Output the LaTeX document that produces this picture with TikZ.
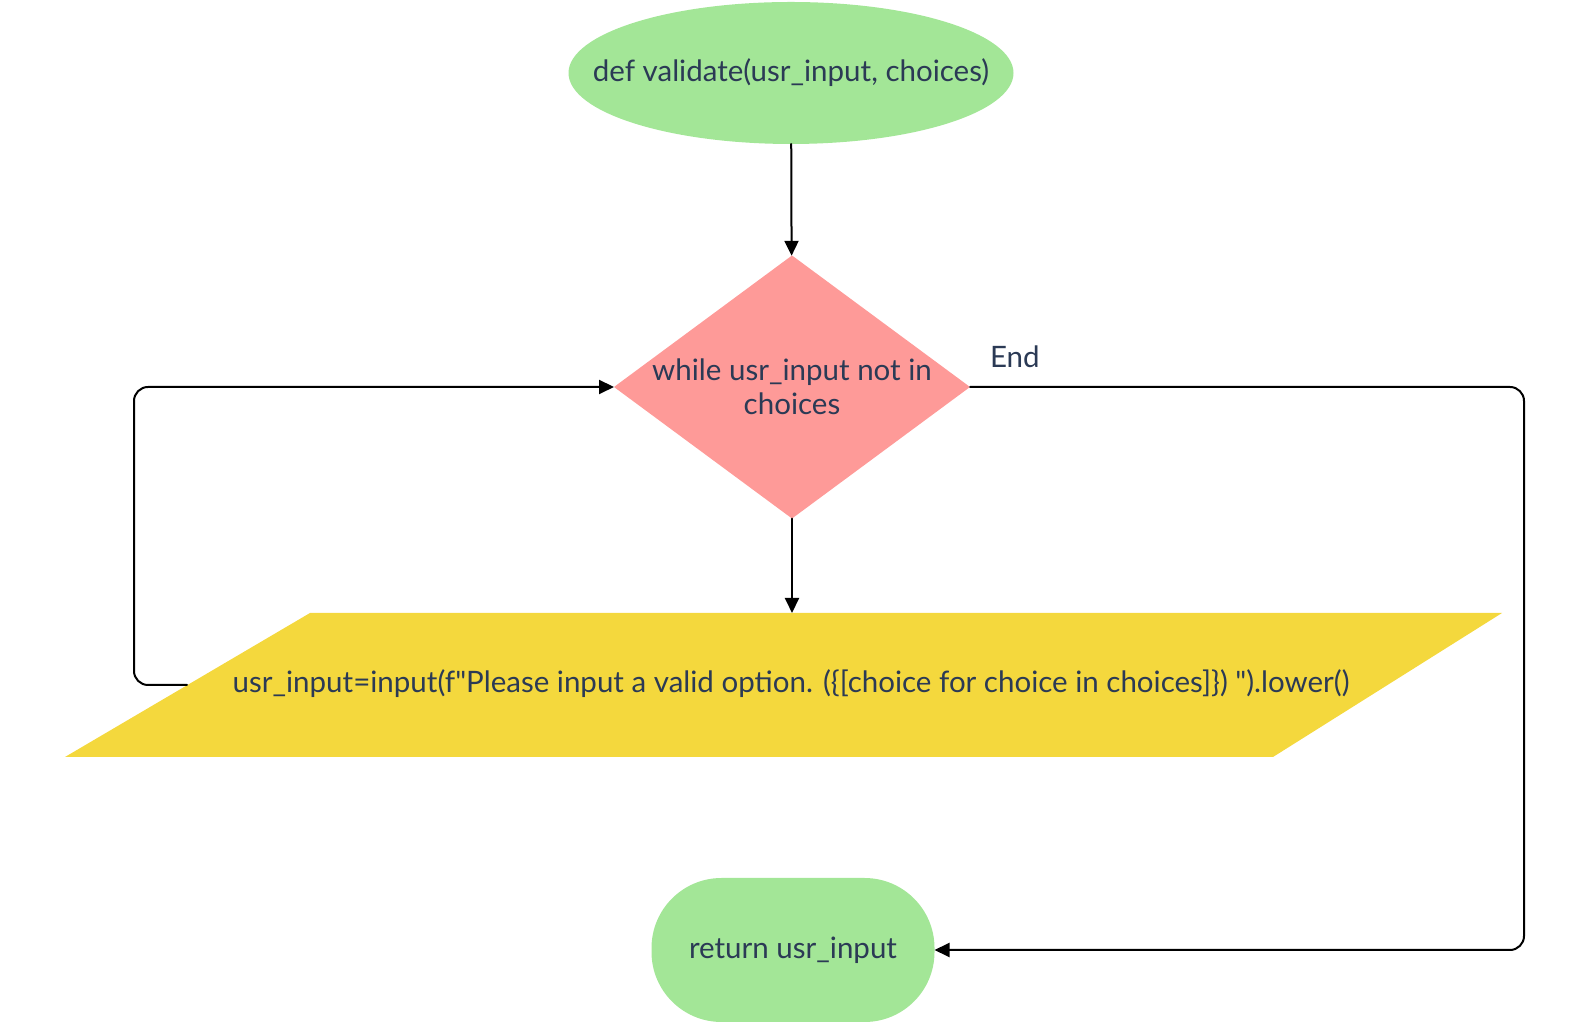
\documentclass[tikz,border=0pt]{standalone}
\usepackage{fontspec}
\setmainfont{Lato}
\newfontfamily\codefont{Lato}
\usetikzlibrary{arrows.meta,positioning,calc,shapes.geometric}

\definecolor{termgreen}{HTML}{A3E697}
\definecolor{condpink}{HTML}{FE9A98}
\definecolor{iogold}{HTML}{F4D83D}
\definecolor{inkblue}{HTML}{2B3A55}

\begin{document}
\begin{tikzpicture}[x=1pt,y=1pt,>={Triangle[length=15pt,width=14pt]},line cap=round,line join=round,
    every node/.style={font=\fontsize{29.5}{34}\selectfont,text=inkblue,inner sep=0pt,outer sep=0pt},
    term/.style={ellipse,fill=termgreen,minimum width=445pt,minimum height=142pt},
    termbox/.style={rectangle,rounded corners=70pt,fill=termgreen,minimum width=283pt,minimum height=144pt},
    decision/.style={diamond,fill=condpink,minimum width=356pt,minimum height=263pt,align=center,aspect=1.35},
    flow/.style={->,line width=2pt,rounded corners=14pt}]
    \useasboundingbox (0,0) rectangle (1584,1022);
    \node[term,label={center:def validate(usr\_input, choices)}] (start) at (791,949) {};
    \node[decision] (cond) at (792,635) {while usr\_input not in\\choices};
    % input parallelogram
    \fill[iogold] (65,265) -- (310,409) -- (1502,409) -- (1273,265) -- cycle;
    \coordinate (inpwest) at (187,337);
    \coordinate (inptop) at (793,409);
    \node[font=\codefont\fontsize{29.5}{34}\selectfont] (inp) at (791,338) {usr\_input=input(f"Please input a valid option. (\{[choice for choice in choices]\}) ").lower()};
    \node[termbox] (stop) at (793,72) {return usr\_input};
    \coordinate (lpcorner) at (134,0);
    \coordinate (endcorner) at (1524,0);
    % connectors
    \draw[flow] (start) -- (cond);
    \draw[flow] (cond.south) -- (cond.south |- inptop);
    \draw[flow] (inpwest) -| (lpcorner |- cond.west) -- (cond.west);
    \draw[flow] (cond.east) -| (endcorner |- stop.east) -- (stop.east);
    \node[anchor=base west] (endlab) at ($(cond.east)+(20,19)$) {End};
\end{tikzpicture}
\end{document}
